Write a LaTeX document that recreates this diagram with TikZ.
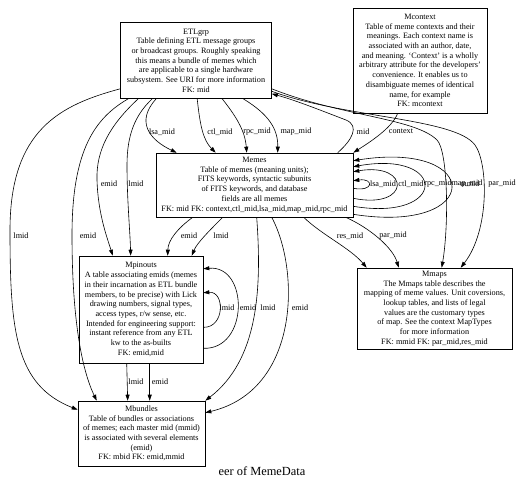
\documentclass[tikz,border=0pt]{standalone}
\usepackage{fontspec}
\setmainfont{Liberation Serif}
\usetikzlibrary{arrows.meta,calc}
\newcommand\tfont{\fontsize{8.2}{9.7}\selectfont}
\begin{document}
\begin{tikzpicture}[x=1pt,y=-1pt,
  tbl/.style={draw, line width=0.6pt, inner sep=0pt, align=center, font=\tfont},
  edge/.style={line width=0.6pt, -{Triangle[length=6pt,width=4pt]}},
  lbl/.style={font=\tfont, inner sep=0pt}]
\useasboundingbox (0,0) rectangle (521,483);

\node[tbl, minimum width=151pt, minimum height=76pt] (etl) at (196,60.5)
 {ETLgrp\\Table defining ETL message groups\\or broadcast groups. Roughly speaking\\this means a bundle of memes which\\are applicable to a single hardware\\subsystem. See URI for more information\\FK: mid};
\node[tbl, minimum width=134pt, minimum height=105pt] (ctx) at (420,60.5)
 {Mcontext\\Table of meme contexts and their\\meanings. Each context name is\\associated with an author, date,\\and meaning. `Context' is a wholly\\arbitrary attribute for the developers'\\convenience. It enables us to\\disambiguate memes of identical\\name, for example\\FK: mcontext};
\node[tbl, minimum width=197pt, minimum height=64pt] (memes) at (254.5,185)
 {Memes\\Table of memes (meaning units);\\FITS keywords, syntactic subunits\\of FITS keywords, and database\\fields are all memes\\FK: mid FK: context,ctl\_mid,lsa\_mid,map\_mid,rpc\_mid};
\node[tbl, minimum width=124pt, minimum height=107pt] (pin) at (141,309.5)
 {Mpinouts\\A table associating emids (memes\\in their incarnation as ETL bundle\\members, to be precise) with Lick\\drawing numbers, signal types,\\access types, r/w sense, etc.\\Intended for engineering support:\\instant reference from any ETL\\kw to the as-builts\\FK: emid,mid};
\node[tbl, minimum width=155pt, minimum height=81pt] (maps) at (434.5,308.5)
 {Mmaps\\The Mmaps table describes the\\mapping of meme values. Unit coversions,\\lookup tables, and lists of legal\\values are the customary types\\of map. See the context MapTypes\\for more information\\FK: mmid FK: par\_mid,res\_mid};
\node[tbl, minimum width=127pt, minimum height=65pt] (mb) at (141.5,433.5)
 {Mbundles\\Table of bundles or associations\\of memes; each master mid (mmid)\\is associated with several elements\\(emid)\\FK: mbid FK: emid,mmid};
\node[font=\fontsize{12.4}{14}\selectfont, inner sep=0pt] (title) at (262,471) {eer of MemeData};

% ETLgrp -> Memes
\draw[edge] ($(etl.south west)+(36,0)$) .. controls (135,122) and (150,140) .. ($(memes.north west)+(21,0)$);
\draw[edge] ($(etl.south west)+(77,0)$) .. controls (200,125) and (203,140) .. ($(memes.north west)+(60,0)$);
\draw[edge] ($(etl.south west)+(102,0)$) .. controls (235,115) and (245,130) .. ($(memes.north west)+(91,0)$);
\draw[edge] ($(etl.south west)+(123,0)$) .. controls (270,115) and (278,130) .. ($(memes.north west)+(122,0)$);
\node[lbl] (l1) at (162,132) {lsa\_mid};
\node[lbl] (l2) at (220,132) {ctl\_mid};
\node[lbl] (l3) at (257,132) {rpc\_mid};
\node[lbl] (l4) at (296,132) {map\_mid};
% Memes -> ETLgrp
\draw[edge] ($(memes.north west)+(182,0)$) .. controls (352,140) and (360,126) .. (346,120) .. controls (325,112) and (295,100) .. ($(etl.south east)+(0,-5)$);
\node[lbl] (l5) at (363,132) {mid};
% Mcontext -> Memes
\draw[edge] ($(ctx.south west)+(45,0)$) .. controls (392,128) and (370,142) .. (memes.north east);
\node[lbl] (l6) at (401,131) {context};
% ETLgrp -> Mmaps
\draw[edge] ($(etl.south east)+(0,-10)$) .. controls (340,116) and (415,118) .. (437,140) .. controls (448,151) and (449,225) .. ($(maps.north west)+(85,0)$);
\draw[edge] ($(etl.south east)+(0,-7.5)$) .. controls (345,118) and (455,118) .. (475,145) .. controls (488,163) and (490,230) .. ($(maps.north west)+(104,0)$);
% Memes self loops
\draw[edge] ($(memes.south east)+(0,-29)$) .. controls (374,192) and (374,178) .. ($(memes.north east)+(0,28)$);
\draw[edge] ($(memes.south east)+(0,-19)$) .. controls (411,210) and (411,162) .. ($(memes.north east)+(0,19)$);
\draw[edge] ($(memes.south east)+(0,-11)$) .. controls (448,222) and (448,150) .. ($(memes.north east)+(0,14)$);
\draw[edge] ($(memes.south east)+(0,-3)$) .. controls (484,235) and (484,140) .. ($(memes.north east)+(0,8)$);
\node[lbl] (l7) at (383,184) {lsa\_mid};
\node[lbl] (l8) at (411,184) {ctl\_mid};
\node[lbl] (l9) at (438,184) {rpc\_mid};
\node[lbl] (l10) at (467,184) {map\_mid};
\node[lbl] (l11) at (470,184) {mmid};
\node[lbl] (l12) at (502,184) {par\_mid};
% Memes -> Mmaps
\draw[edge] ($(memes.south west)+(148,0)$) .. controls (322,235) and (350,248) .. ($(maps.north west)+(10,0)$);
\draw[edge] ($(memes.south west)+(190,0)$) .. controls (370,228) and (393,248) .. ($(maps.north west)+(42,0)$);
\node[lbl] (l13) at (350,236) {res\_mid};
\node[lbl] (l14) at (393,236) {par\_mid};
% ETLgrp -> Mpinouts
\draw[edge] ($(etl.south west)+(18,0)$) .. controls (110,125) and (96,150) .. (97,180) .. controls (98,215) and (108,240) .. ($(pin.north west)+(34,0)$);
\draw[edge] ($(etl.south west)+(32,0)$) .. controls (135,115) and (127,135) .. (127,165) .. controls (127,200) and (130,230) .. ($(pin.north west)+(52,0)$);
\node[lbl] (l15) at (109,184) {emid};
\node[lbl] (l16) at (136,184) {lmid};
% Memes -> Mpinouts
\draw[edge] ($(memes.south west)+(37,0)$) .. controls (178,228) and (168,240) .. ($(pin.north west)+(89,0)$);
\draw[edge] ($(memes.south west)+(67,0)$) .. controls (210,230) and (197,243) .. ($(pin.north west)+(113,0)$);
\node[lbl] (l17) at (189,236) {emid};
\node[lbl] (l18) at (221,236) {lmid};
% ETLgrp -> Mbundles
\draw[edge] ($(etl.south west)+(0,-10)$) .. controls (60,105) and (10,130) .. (10,230) .. controls (10,330) and (15,385) .. ($(mb.north west)+(0,9)$);
\draw[edge] ($(etl.south west)+(8,0)$) .. controls (95,118) and (72,150) .. (72,235) .. controls (72,320) and (82,370) .. ($(mb.north west)+(19,0)$);
\node[lbl] (l19) at (21,236) {lmid};
\node[lbl] (l20) at (88,236) {emid};
% Mpinouts self loops
\draw[edge] ($(pin.south east)+(0,-15)$) .. controls (249,350) and (249,265) .. ($(pin.north east)+(0,13)$);
\draw[edge] ($(pin.south east)+(0,-36)$) .. controls (225,328) and (225,291) .. ($(pin.north east)+(0,37)$);
\node[lbl] (l21) at (227,308) {lmid};
\node[lbl] (l22) at (248,308) {emid};
% Memes -> Mbundles
\draw[edge] ($(memes.south west)+(101,0)$) .. controls (262,290) and (258,360) .. (mb.north east);
\draw[edge] ($(memes.south west)+(116,0)$) .. controls (300,270) and (300,390) .. ($(mb.north east)+(0,12)$);
\node[lbl] (l23) at (268,308) {lmid};
\node[lbl] (l24) at (300,308) {emid};
% Mpinouts -> Mbundles
\draw[edge] ($(pin.south west)+(48,0)$) -- ($(mb.north west)+(50,0)$);
\draw[edge] ($(pin.south west)+(71,0)$) -- ($(mb.north west)+(72,0)$);
\node[lbl] (l25) at (136,382) {lmid};
\node[lbl] (l26) at (160,382) {emid};
\end{tikzpicture}
\end{document}
